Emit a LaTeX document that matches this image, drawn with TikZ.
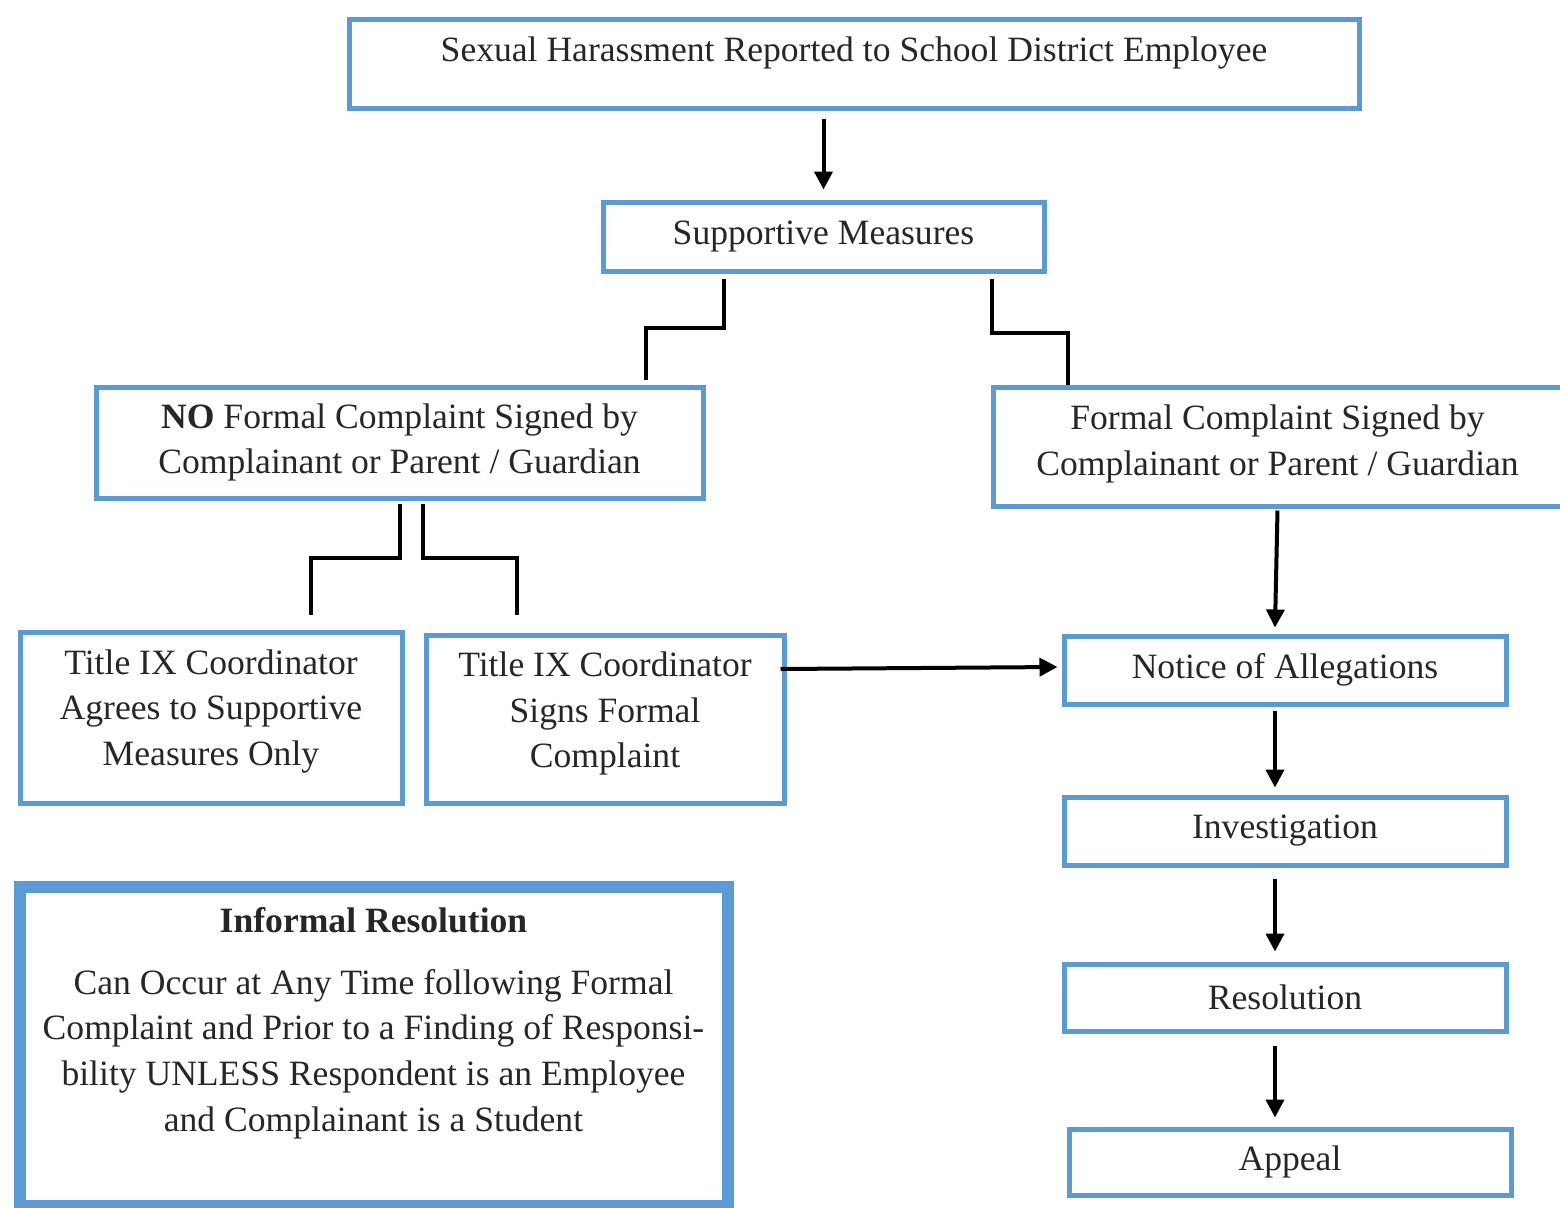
\documentclass[tikz,border=0pt]{standalone}
\usepackage{fontspec}
\setmainfont{Liberation Serif}
\usetikzlibrary{arrows.meta,calc}
\definecolor{boxblue}{RGB}{91,155,213}
\begin{document}
\begin{tikzpicture}[x=0.5pt,y=-0.5pt,
    box/.style = {draw=boxblue, line width=2.5pt, align=center, inner sep=0pt, text=black!85,
                  font=\fontsize{17.8}{22.8}\selectfont},
    link/.style = {line width=2pt},
    arr/.style = {line width=2pt, -{Triangle[width=9pt,length=9pt]}}]
    \useasboundingbox (0,0) rectangle (1560,1207);

    \node[box, minimum width=505pt, minimum height=44.5pt, text depth=14pt] (report) at (854,63.5) {Sexual Harassment Reported to School District Employee};
    \node[box, minimum width=220.5pt, minimum height=34.5pt] (sup) at (823.5,236.5) {Supportive Measures};
    \node[box, minimum width=303.5pt, minimum height=55.5pt] (noform) at (399.5,442.5) {\textbf{NO} Formal Complaint Signed by\\Complainant or Parent / Guardian};
    \node[box, minimum width=284.5pt, minimum height=59.5pt, text depth=6.5pt] (form) at (1277.5,446.5) {Formal Complaint Signed by\\Complainant or Parent / Guardian};
    \node[box, minimum width=191pt, minimum height=85.5pt, text depth=10pt] (coordA) at (211,717.5) {Title IX Coordinator\\Agrees to Supportive\\Measures Only};
    \node[box, minimum width=179pt, minimum height=84pt, text depth=9pt] (coordB) at (605,719) {Title IX Coordinator\\Signs Formal\\Complaint};
    \node[box, minimum width=221pt, minimum height=34pt] (notice) at (1285,670) {Notice of Allegations};
    \node[box, minimum width=221pt, minimum height=34pt] (inv) at (1285,831) {Investigation};
    \node[box, minimum width=221pt, minimum height=33.5pt] (res) at (1285,997.5) {Resolution};
    \node[box, minimum width=221pt, minimum height=33pt] (app) at (1290,1162) {Appeal};
    \node[box, line width=6pt, minimum width=354pt, minimum height=159.75pt, text depth=27pt] (informal) at (373.5,1046.25)
        {\textbf{Informal Resolution}\\[8pt]Can Occur at Any Time following Formal\\Complaint and Prior to a Finding of Responsi-\\bility UNLESS Respondent is an Employee\\and Complainant is a Student};

    \draw[arr] ($(report.south -| sup.north)+(0,8)$) -- ($(sup.north)+(0,-10)$);
    \draw[link] ($(sup.south)+(-100,5)$) -- ++(0,49) -| ($(noform.north)+(246,-5)$);
    \draw[link] ($(sup.south)+(168.5,5)$) -- ++(0,54) -| (form.north -| 1068,0);
    \draw[link] ($(noform.south)+(0,3)$) -- ++(0,54) -| ($(coordA.north)+(100,-15)$);
    \draw[link] ($(noform.south)+(23,3)$) -- ++(0,54) -| ($(coordB.north)+(-88,-18)$);
    \draw[arr] ($(form.south)+(0,2)$) -- ($(notice.north)+(-10,-6)$);
    \draw[arr] ($(coordB.east)+(-6,-50)$) -- ($(notice.west)+(-4,-3)$);
    \draw[arr] ($(notice.south)+(-10,4)$) -- ($(inv.north)+(-10,-7)$);
    \draw[arr] ($(inv.south)+(-10,11)$) -- ($(res.north)+(-10,-10)$);
    \draw[arr] ($(res.south)+(-10,12)$) -- ($(app.north)+(-15,-9)$);
\end{tikzpicture}
\end{document}
